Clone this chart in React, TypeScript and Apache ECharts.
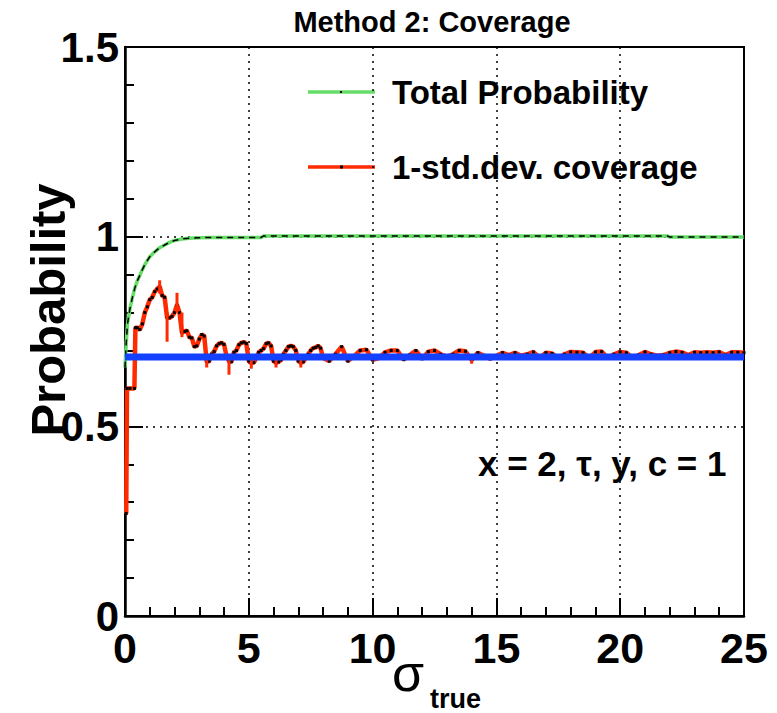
import React, { useEffect, useRef } from "react";
import * as echarts from "echarts";

const chartTitle = "Method 2: Coverage";
const yTitle = "Probability";
const legendNames = ["Total Probability", "1-std.dev. coverage"];
const annotation = "x = 2, \u03c4, y, c = 1";

const redSigma = [
  0.05, 0.08, 0.2, 0.38, 0.42, 0.5, 0.6, 0.7, 0.8, 0.9,
  1.0, 1.1, 1.2, 1.3, 1.4, 1.5, 1.6, 1.7, 1.8, 1.9,
  2.0, 2.1, 2.2, 2.3, 2.4, 2.5, 2.6, 2.7, 2.8, 2.9,
  3.0, 3.1, 3.2, 3.3, 3.4, 3.5, 3.6, 3.7, 3.8, 3.9,
  4.0, 4.1, 4.2, 4.3, 4.4, 4.5, 4.6, 4.7, 4.8, 4.9,
  5.0, 5.1, 5.2, 5.3, 5.4, 5.5, 5.6, 5.7, 5.8, 5.9,
  6.0, 6.1, 6.2, 6.3, 6.4, 6.5, 6.6, 6.7, 6.8, 6.9,
  7.0, 7.1, 7.2, 7.3, 7.4, 7.5, 7.6, 7.7, 7.8, 7.9,
  8.0, 8.25, 8.5, 8.75, 9.0, 9.25, 9.5, 9.75, 10.0, 10.25,
  10.5, 10.75, 11.0, 11.25, 11.5, 11.75, 12.0, 12.25, 12.5, 12.75,
  13.0, 13.25, 13.5, 13.75, 14.0, 14.25, 14.5, 14.75, 15.0, 15.25,
  15.5, 15.75, 16.0, 16.25, 16.5, 16.75, 17.0, 17.25, 17.5, 17.75,
  18.0, 18.25, 18.5, 18.75, 19.0, 19.25, 19.5, 19.75, 20.0, 20.25,
  20.5, 20.75, 21.0, 21.25, 21.5, 21.75, 22.0, 22.25, 22.5, 22.75,
  23.0, 23.25, 23.5, 23.75, 24.0, 24.25, 24.5, 24.75, 25.0,
];
const redProb = [
  0.27, 0.6, 0.6, 0.6, 0.76, 0.76, 0.755, 0.77, 0.8, 0.815,
  0.834, 0.84, 0.855, 0.862, 0.868, 0.845, 0.84, 0.786, 0.786, 0.79,
  0.8, 0.82, 0.8, 0.747, 0.75, 0.752, 0.735, 0.733, 0.71, 0.712,
  0.73, 0.742, 0.738, 0.67, 0.672, 0.69, 0.697, 0.712, 0.718, 0.72,
  0.716, 0.685, 0.672, 0.67, 0.695, 0.7, 0.715, 0.72, 0.722, 0.718,
  0.672, 0.667, 0.668, 0.68, 0.695, 0.7, 0.705, 0.718, 0.72, 0.712,
  0.672, 0.668, 0.67, 0.675, 0.69, 0.7, 0.71, 0.712, 0.71, 0.7,
  0.672, 0.668, 0.67, 0.68, 0.69, 0.7, 0.706, 0.708, 0.712, 0.706,
  0.68, 0.672, 0.69, 0.71, 0.672, 0.685, 0.7, 0.702, 0.675, 0.68,
  0.695, 0.7, 0.7, 0.676, 0.688, 0.7, 0.678, 0.697, 0.7, 0.69,
  0.684, 0.69, 0.7, 0.698, 0.675, 0.694, 0.686, 0.678, 0.686, 0.694,
  0.688, 0.694, 0.686, 0.69, 0.696, 0.68, 0.694, 0.692, 0.68, 0.69,
  0.696, 0.695, 0.694, 0.68, 0.696, 0.697, 0.68, 0.69, 0.696, 0.694,
  0.68, 0.688, 0.696, 0.69, 0.686, 0.688, 0.694, 0.697, 0.695, 0.688,
  0.695, 0.694, 0.695, 0.694, 0.696, 0.688, 0.695, 0.695, 0.694,
];
// [sigma, low, high]
const redErrors = [
  [1.4, 0.85, 0.885],
  [1.7, 0.723, 0.8],
  [2.1, 0.8, 0.852],
  [2.3, 0.735, 0.8],
  [3.3, 0.655, 0.69],
  [4.2, 0.636, 0.69],
  [5.1, 0.652, 0.68],
  [6.1, 0.655, 0.68],
  [7.1, 0.655, 0.68],
  [14.0, 0.665, 0.685],
];

const greenSigma = [
  0.0, 0.05, 0.1, 0.2, 0.3, 0.4, 0.5, 0.6, 0.7, 0.8, 0.9, 1.0, 1.2, 1.4,
  1.6, 1.8, 2.0, 2.3, 2.6, 3.0, 3.5, 4.5, 5.5, 5.6, 21.9, 22.0, 25.0,
];
const greenProb = [
  0.655, 0.72, 0.77, 0.81, 0.84, 0.865, 0.884, 0.898, 0.913, 0.926, 0.937,
  0.947, 0.96, 0.971, 0.978, 0.985, 0.99, 0.994, 0.996, 0.997, 0.998, 0.998,
  0.998, 1.002, 1.002, 0.999, 0.999,
];

const refSigma = [0, 25];
const refProb = [0.6827, 0.6827];

const FONT = "'Liberation Sans', Arial, Helvetica, sans-serif";
const GREEN = "#66dd66";
const RED = "#ff2a00";
const BLUE = "#1440ff";

export default function App() {
  const ref = useRef<HTMLDivElement>(null);
  useEffect(() => {
    if (!ref.current) return;
    const chart = echarts.init(ref.current, undefined, { renderer: "svg" });
    const redData = redSigma.map((s, i) => [s, redProb[i]]);
    const greenData = greenSigma.map((s, i) => [s, greenProb[i]]);
    const refData = refSigma.map((s, i) => [s, refProb[i]]);
    chart.setOption({
      animation: false,
      backgroundColor: "#ffffff",
      grid: {
        left: 125,
        top: 47,
        width: 619,
        height: 569,
        show: true,
        borderColor: "#000",
        borderWidth: 2,
        backgroundColor: "transparent",
      },
      xAxis: {
        type: "value",
        min: 0,
        max: 25,
        interval: 5,
        axisLine: { lineStyle: { color: "#000", width: 2.5 } },
        axisTick: { inside: true, length: 18, lineStyle: { color: "#000", width: 2 } },
        minorTick: { show: true, splitNumber: 5, length: 9, lineStyle: { color: "#000", width: 2 } },
        splitLine: { show: true, lineStyle: { color: "#000", type: [2, 5], width: 1.5 } },
        axisLabel: { color: "#000", fontSize: 43, fontWeight: "bold", fontFamily: FONT, margin: 10 },
      },
      yAxis: {
        type: "value",
        min: 0,
        max: 1.5,
        interval: 0.5,
        axisLine: { lineStyle: { color: "#000", width: 2.5 } },
        axisTick: { inside: true, length: 18, lineStyle: { color: "#000", width: 2 } },
        minorTick: { show: true, splitNumber: 5, length: 9, lineStyle: { color: "#000", width: 2 } },
        splitLine: { show: true, lineStyle: { color: "#000", type: [2, 5], width: 1.5 } },
        axisLabel: { color: "#000", fontSize: 42, fontWeight: "bold", fontFamily: FONT, margin: 6 },
      },
      series: [
        {
          name: legendNames[0],
          type: "line",
          data: greenData,
          showSymbol: false,
          lineStyle: { color: GREEN, width: 3.5 },
          itemStyle: { color: GREEN },
          z: 2,
        },
        {
          name: "green-markers",
          type: "line",
          data: greenData,
          showSymbol: false,
          lineStyle: { color: "#000", width: 1.5, type: [6, 5] },
          z: 3,
        },
        {
          name: legendNames[1],
          type: "line",
          data: redData,
          symbol: "rect",
          symbolSize: 3,
          itemStyle: { color: "#000" },
          lineStyle: { color: RED, width: 4.5 },
          z: 4,
        },
        {
          name: "errors",
          type: "custom",
          data: redErrors,
          renderItem: (params: any, api: any) => {
            const p1 = api.coord([api.value(0), api.value(1)]);
            const p2 = api.coord([api.value(0), api.value(2)]);
            return {
              type: "line",
              shape: { x1: p1[0], y1: p1[1], x2: p2[0], y2: p2[1] },
              style: { stroke: RED, lineWidth: 3 },
            };
          },
          z: 5,
        },
        {
          name: "reference",
          type: "line",
          data: refData,
          showSymbol: false,
          lineStyle: { color: BLUE, width: 7 },
          z: 6,
        },
      ],
      graphic: [
        {
          type: "text",
          x: 432,
          y: 22,
          style: { text: chartTitle, fontSize: 29, fontWeight: "bold", fontFamily: FONT, align: "center", verticalAlign: "middle", fill: "#000" },
        },
        {
          type: "text",
          x: 48,
          y: 310,
          rotation: Math.PI / 2,
          style: { text: yTitle, fontSize: 49, fontWeight: "bold", fontFamily: FONT, align: "center", verticalAlign: "middle", fill: "#000" },
        },
        {
          type: "text",
          x: 392,
          y: 699,
          style: { text: "\u03c3", fontSize: 52, fontFamily: FONT, align: "left", verticalAlign: "bottom", fill: "#000" },
        },
        {
          type: "text",
          x: 430,
          y: 712,
          style: { text: "true", fontSize: 27, fontWeight: "bold", fontFamily: FONT, align: "left", verticalAlign: "bottom", fill: "#000" },
        },
        { type: "line", shape: { x1: 308, y1: 92, x2: 375, y2: 92 }, style: { stroke: GREEN, lineWidth: 3.5 } },
        { type: "rect", shape: { x: 340, y: 91, width: 2, height: 2 }, style: { fill: "#000" } },
        { type: "line", shape: { x1: 308, y1: 167, x2: 375, y2: 167 }, style: { stroke: RED, lineWidth: 3.5 } },
        { type: "rect", shape: { x: 340, y: 165.5, width: 3, height: 3 }, style: { fill: "#000" } },
        {
          type: "text",
          x: 392,
          y: 92,
          style: { text: legendNames[0], fontSize: 33, fontWeight: "bold", fontFamily: FONT, align: "left", verticalAlign: "middle", fill: "#000" },
        },
        {
          type: "text",
          x: 392,
          y: 167,
          style: { text: legendNames[1], fontSize: 33, fontWeight: "bold", fontFamily: FONT, align: "left", verticalAlign: "middle", fill: "#000" },
        },
        {
          type: "text",
          x: 478,
          y: 463,
          style: { text: annotation, fontSize: 35, fontWeight: "bold", fontFamily: FONT, align: "left", verticalAlign: "middle", fill: "#000" },
        },
      ],
    });
    return () => chart.dispose();
  }, []);
  return (
    <div
      ref={ref}
      style={{ position: "fixed", left: 0, top: 0, width: 777, height: 713, background: "#fff" }}
    />
  );
}
